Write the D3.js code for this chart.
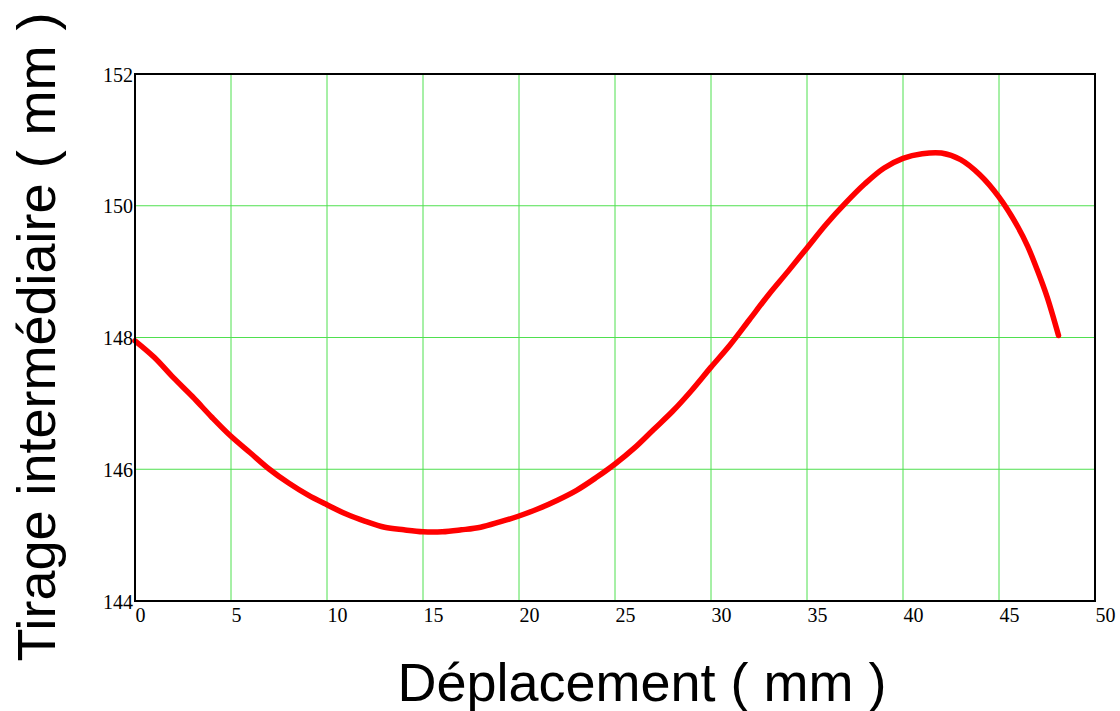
<!DOCTYPE html>
<html>
<head>
<meta charset="utf-8">
<script src="https://cdn.jsdelivr.net/npm/d3@7"></script>
<style>
    body { margin: 0; background: #fff; }
    svg { display: block; }
</style>
</head>
<body>
<div class="chart"></div>
<script>
    // values
    const displacement = [0, 1, 2, 3, 4, 5, 6, 7, 8, 9, 10, 11, 12, 13, 14, 15, 16, 17, 18, 19, 20,
        21, 22, 23, 24, 25, 26, 27, 28, 29, 30, 31, 32, 33, 34, 35, 36, 37, 38, 39, 40,
        41, 42, 43, 44, 45, 46, 46.5, 47, 47.5, 48.1]
    const tirage = [147.95, 147.70, 147.39, 147.10, 146.79, 146.50, 146.25, 146.00, 145.79, 145.61, 145.46,
        145.32, 145.21, 145.12, 145.08, 145.05, 145.05, 145.08, 145.12, 145.20, 145.29,
        145.40, 145.53, 145.68, 145.87, 146.08, 146.32, 146.60, 146.88, 147.20, 147.55,
        147.89, 148.27, 148.65, 149.00, 149.36, 149.72, 150.04, 150.33, 150.57, 150.72,
        150.79, 150.80, 150.70, 150.47, 150.13, 149.67, 149.38, 149.02, 148.62, 148.03]
    const xTicks = [0, 5, 10, 15, 20, 25, 30, 35, 40, 45, 50]
    const yTicks = [144, 146, 148, 150, 152]

    const data = displacement.map((d, i) => ({ x: d, y: tirage[i] }))

    const margin = { top: 74, right: 25, bottom: 110, left: 135 }
    const fullW = 1120, fullH = 711
    const width = fullW - margin.left - margin.right
    const height = fullH - margin.top - margin.bottom

    const svg = d3.select(".chart")
        .append("svg")
        .attr("width", fullW)
        .attr("height", fullH)

    const g = svg.append("g")
        .attr("transform", `translate(${margin.left},${margin.top})`)

    const x = d3.scaleLinear().domain([0, 50]).range([0, width])
    const y = d3.scaleLinear().domain([144, 152]).range([height, 0])

    // grid
    g.selectAll("line.vgrid")
        .data(xTicks.slice(1, -1))
        .enter().append("line")
        .attr("class", "vgrid")
        .attr("x1", d => x(d)).attr("x2", d => x(d))
        .attr("y1", 0).attr("y2", height)
        .style("stroke", "#4fe04f")
        .style("stroke-width", 1)

    g.selectAll("line.hgrid")
        .data(yTicks.slice(1, -1))
        .enter().append("line")
        .attr("class", "hgrid")
        .attr("x1", 0).attr("x2", width)
        .attr("y1", d => y(d)).attr("y2", d => y(d))
        .style("stroke", "#4fe04f")
        .style("stroke-width", 1)

    // axes (labels only, frame drawn below)
    const xAxis = d3.axisBottom(x).tickValues(xTicks).tickSize(0).tickPadding(0)
    const yAxis = d3.axisLeft(y).tickValues(yTicks).tickSize(0).tickPadding(2)

    g.append("g")
        .attr("transform", `translate(0,${height})`)
        .call(xAxis)
        .call(a => a.select(".domain").remove())
        .selectAll("text")
        .style("font-family", "'Liberation Serif', 'Times New Roman', serif")
        .style("font-size", "20px")
        .style("fill", "#000")
        .style("text-anchor", "start")
        .attr("dx", "0")
        .attr("dy", "1.05em")

    g.append("g")
        .call(yAxis)
        .call(a => a.select(".domain").remove())
        .selectAll("text")
        .style("font-family", "'Liberation Serif', 'Times New Roman', serif")
        .style("font-size", "20px")
        .style("fill", "#000")
        .attr("dy", "0.35em")

    // curve
    const line = d3.line()
        .x(d => x(d.x))
        .y(d => y(d.y))
        .curve(d3.curveCatmullRom)

    g.append("path")
        .datum(data)
        .attr("d", line)
        .style("fill", "none")
        .style("stroke", "#ff0000")
        .style("stroke-width", 5.5)
        .style("stroke-linecap", "round")
        .style("stroke-linejoin", "round")

    // frame
    g.append("rect")
        .attr("x", 0).attr("y", 0)
        .attr("width", width).attr("height", height)
        .style("fill", "none")
        .style("stroke", "#000")
        .style("stroke-width", 2)

    // axis titles
    svg.append("text")
        .attr("x", 642)
        .attr("y", 701)
        .attr("text-anchor", "middle")
        .style("font-family", "'Liberation Sans', Arial, sans-serif")
        .style("font-size", "54px")
        .text("Déplacement ( mm )")

    svg.append("text")
        .attr("transform", "translate(55,337) rotate(-90)")
        .attr("text-anchor", "middle")
        .style("font-family", "'Liberation Sans', Arial, sans-serif")
        .style("font-size", "54px")
        .text("Tirage intermédiaire ( mm )")
</script>
</body>
</html>
